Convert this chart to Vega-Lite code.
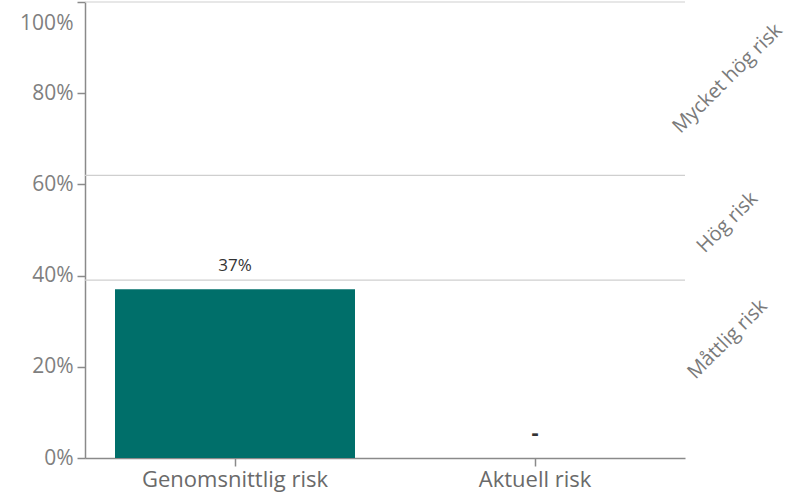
{
  "$schema": "https://vega.github.io/schema/vega-lite/v6.json",
  "width": 600,
  "height": 456,
  "autosize": "none",
  "padding": {"left": 85, "top": 2, "right": 111, "bottom": 35},
  "config": {"view": {"stroke": null}, "font": "Open Sans"},
  "datasets": {
    "bars": [
      {"category": "Genomsnittlig risk", "value": 0.37, "label": "37%"},
      {"category": "Aktuell risk", "value": 0, "label": "-"}
    ],
    "thresholds": [{"limit": 0.39}, {"limit": 0.62}, {"limit": 1.0}]
  },
  "layer": [
    {
      "data": {"name": "thresholds"},
      "mark": {"type": "rule", "color": "#cfcfcf", "strokeWidth": 1.2},
      "encoding": {
        "y": {
          "field": "limit",
          "type": "quantitative",
          "scale": {"domain": [0, 1], "nice": false, "zero": true},
          "axis": {
            "orient": "right",
            "values": [0.261, 0.5175, 0.833],
            "labelExpr": "datum.value < 0.4 ? 'Måttlig risk' : (datum.value < 0.7 ? 'Hög risk' : 'Mycket hög risk')",
            "ticks": false,
            "domain": false,
            "grid": false,
            "title": null,
            "labelAngle": -45,
            "labelAlign": "center",
            "labelBaseline": "middle",
            "labelPadding": 42,
            "labelFontSize": 20,
            "labelColor": "#7a7a7a",
            "labelBound": false,
            "labelOverlap": false,
            "labelFlush": false,
            "labelLimit": 0
          }
        }
      }
    },
    {
      "data": {"name": "bars"},
      "mark": {"type": "bar", "color": "#006f6a"},
      "encoding": {
        "x": {
          "field": "category",
          "type": "nominal",
          "sort": null,
          "scale": {"paddingInner": 0.2, "paddingOuter": 0.1},
          "axis": {
            "title": null,
            "labelAngle": 0,
            "labelFontSize": 22,
            "labelColor": "#6a6a6a",
            "labelPadding": 3,
            "labelLimit": 0,
            "tickSize": 8,
            "tickColor": "#8a8a8a",
            "tickWidth": 1.5,
            "domainColor": "#8a8a8a",
            "domainWidth": 1.5
          }
        },
        "y": {
          "field": "value",
          "type": "quantitative",
          "axis": {
            "orient": "left",
            "title": null,
            "values": [0, 0.2, 0.4, 0.6, 0.8, 1.0],
            "format": ".0%",
            "grid": false,
            "labelFontSize": 21,
            "labelColor": "#7f7f7f",
            "labelPadding": 4,
            "tickSize": 8,
            "tickColor": "#8a8a8a",
            "tickWidth": 1.5,
            "domainColor": "#8a8a8a",
            "domainWidth": 1.5,
            "labelFlush": false,
            "labelBaseline": "middle",
            "labelOffset": {
              "condition": {"test": "datum.value >= 1", "value": 21},
              "value": 0
            }
          }
        }
      }
    },
    {
      "data": {"name": "bars"},
      "transform": [{"filter": "datum.label != '-'"}],
      "mark": {"type": "text", "baseline": "bottom", "dy": -14, "fontSize": 17, "color": "#333333"},
      "encoding": {
        "x": {"field": "category", "type": "nominal", "sort": null},
        "y": {"field": "value", "type": "quantitative", "axis": null},
        "text": {"field": "label"}
      }
    },
    {
      "data": {"name": "bars"},
      "transform": [{"filter": "datum.label == '-'"}],
      "mark": {"type": "text", "baseline": "bottom", "dy": -13, "fontSize": 22, "fontWeight": "bold", "color": "#333333"},
      "encoding": {
        "x": {"field": "category", "type": "nominal", "sort": null},
        "y": {"field": "value", "type": "quantitative", "axis": null},
        "text": {"field": "label"}
      }
    }
  ],
  "resolve": {"axis": {"y": "independent"}}
}
